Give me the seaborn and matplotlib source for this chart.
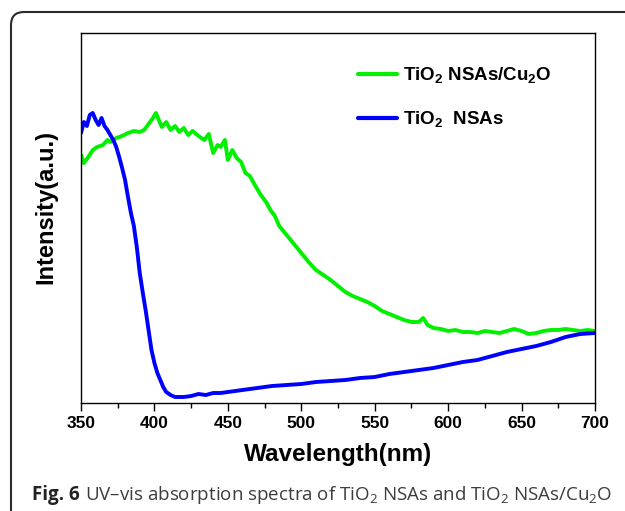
import numpy as np
import pandas as pd
import matplotlib
matplotlib.use('Agg')
import matplotlib.pyplot as plt
import seaborn as sns
from matplotlib.patches import FancyBboxPatch
from matplotlib.ticker import MultipleLocator

# Spectra (wavelength in nm, intensity in a.u.)
wl_cu2o = [350, 352, 355, 358, 361, 365, 368, 370, 374, 378, 382, 386, 390, 393, 396, 399,
           401, 403, 405, 408, 411, 414, 417, 420, 423, 426, 430, 434, 437, 440, 443, 445,
           448, 450, 453, 456, 459, 462, 465, 468, 472, 476, 479, 482, 485, 490, 495, 500,
           505, 510, 515, 520, 525, 530, 535, 540, 545, 550, 555, 560, 565, 570, 575, 580,
           583, 586, 590, 595, 600, 605, 610, 615, 620, 625, 630, 635, 640, 645, 650, 655,
           660, 665, 670, 675, 680, 685, 690, 695, 700]
int_cu2o = [247, 239, 245, 252, 255, 257, 262, 260, 264, 266, 269, 271, 270, 272, 278, 284,
            289, 282, 275, 280, 272, 276, 270, 274, 267, 271, 266, 262, 268, 249, 257, 255,
            262, 242, 252, 244, 240, 229, 226, 218, 208, 200, 192, 186, 176, 167, 158, 149,
            140, 132, 127, 122, 116, 110, 106, 103, 100, 96, 91, 88, 85, 82, 80, 80,
            84, 77, 74, 73, 71, 72, 70, 70, 69, 71, 70, 69, 71, 73, 71, 68,
            69, 71, 72, 72, 73, 72, 71, 72, 71]

wl_tio2 = [350, 352, 354, 356, 358, 360, 362, 364, 366, 368, 370, 372, 374, 376, 378, 380,
           382, 384, 386, 388, 390, 392, 394, 396, 398, 400, 402, 404, 406, 408, 411, 414,
           417, 420, 425, 430, 435, 440, 445, 450, 460, 470, 480, 490, 500, 510, 520, 530,
           540, 550, 560, 570, 580, 590, 600, 610, 620, 630, 640, 650, 660, 670, 680, 690, 700]
int_tio2 = [269, 280, 276, 287, 289, 282, 277, 284, 276, 272, 267, 262, 255, 245, 234, 222,
            205, 189, 176, 155, 129, 110, 92, 72, 52, 39, 29, 22, 15, 10, 7, 5,
            5, 5, 6, 8, 7, 9, 9, 10, 12, 14, 16, 17, 18, 20, 21, 22,
            24, 25, 28, 30, 32, 34, 37, 40, 42, 46, 50, 53, 56, 60, 65, 68, 69]

label_cu2o = r'TiO$_\mathbf{2}$ NSAs/Cu$_\mathbf{2}$O'
label_tio2 = r'TiO$_\mathbf{2}$  NSAs'

df = pd.concat([
    pd.DataFrame({'Wavelength': wl_cu2o, 'Intensity': int_cu2o, 'Sample': label_cu2o}),
    pd.DataFrame({'Wavelength': wl_tio2, 'Intensity': int_tio2, 'Sample': label_tio2}),
])

sns.set_theme(style='ticks')
plt.rcParams['font.family'] = ['Liberation Sans', 'DejaVu Sans']
plt.rcParams['text.color'] = 'black'
plt.rcParams['axes.labelcolor'] = 'black'
plt.rcParams['xtick.color'] = 'black'
plt.rcParams['mathtext.fontset'] = 'custom'
plt.rcParams['mathtext.rm'] = 'Open Sans'
plt.rcParams['mathtext.bf'] = 'Liberation Sans:bold'

fig = plt.figure(figsize=(6.25, 5.11), dpi=100)

# background frame (pixel coordinates)
bg = fig.add_axes([0, 0, 1, 1])
bg.set_xlim(0, 625)
bg.set_ylim(511, 0)
bg.axis('off')
bg.add_patch(FancyBboxPatch((11, 12), 700, 600, boxstyle='round,pad=0,rounding_size=13',
                            fill=False, edgecolor='#2b2b2b', linewidth=1.5))

ax = fig.add_axes([81 / 625, 1 - 403 / 511, 514 / 625, 370 / 511])
sns.lineplot(data=df, x='Wavelength', y='Intensity', hue='Sample',
             hue_order=[label_cu2o, label_tio2],
             palette=['#00f000', '#0000ff'], estimator=None, sort=False,
             linewidth=2.8, ax=ax)

ax.set_xlim(350, 700)
ax.set_ylim(-1, 369)
ax.xaxis.set_major_locator(MultipleLocator(50))
ax.xaxis.set_minor_locator(MultipleLocator(25))
ax.tick_params(axis='x', which='major', length=6, width=1, direction='out', labelsize=12.5)
ax.tick_params(axis='x', which='minor', length=3.5, width=1, direction='out')
ax.set_yticks([])
for lbl in ax.get_xticklabels():
    lbl.set_fontweight('bold')
for s in ax.spines.values():
    s.set_linewidth(1.0)
    s.set_color('black')

ax.set_xlabel('Wavelength(nm)', fontsize=17.5, fontweight='bold')
ax.set_ylabel('Intensity(a.u.)', fontsize=17, fontweight='bold')
ax.xaxis.set_label_coords(0.5, -0.107)
ax.yaxis.set_label_coords(-0.045, 0.53)

leg = ax.legend(loc='upper left', bbox_to_anchor=(0.539, 0.912), frameon=False,
                handlelength=2.1, handletextpad=0.3, labelspacing=1.25,
                borderaxespad=0, borderpad=0,
                prop={'size': 13.5, 'weight': 'bold'})
for line in leg.get_lines():
    line.set_linewidth(3)

# caption
t1 = fig.text(32 / 625, 1 - 500 / 511, 'Fig. 6', fontsize=13.5, fontweight='bold',
              family='Open Sans', color='#222222', va='baseline')
fig.canvas.draw()
bb = t1.get_window_extent()
fig.text((bb.x1 + 5) / 625, 1 - 500 / 511,
         r'UV–vis absorption spectra of TiO$_2$ NSAs and TiO$_2$ NSAs/Cu$_2$O',
         fontsize=13.5, family='Open Sans', color='#3c3c3c', va='baseline')

fig.savefig('out.png', dpi=100)
